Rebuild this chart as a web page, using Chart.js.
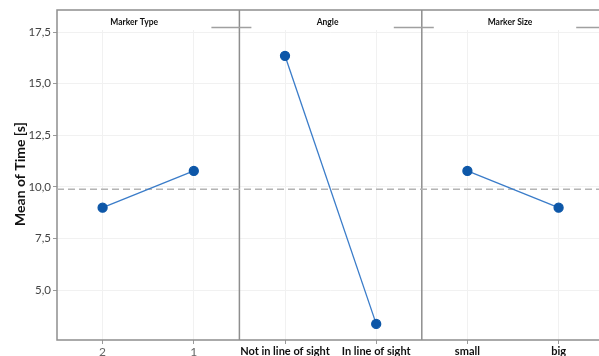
<!DOCTYPE html>
<html>
<head>
<meta charset="utf-8">
<script src="https://cdn.jsdelivr.net/npm/chart.js@4.4.1/dist/chart.umd.min.js"></script>
<style>
  html, body { margin: 0; padding: 0; background: #fff; overflow: hidden; }
  canvas { display: block; }
</style>
</head>
<body>
<canvas id="mainEffects" width="610" height="356"></canvas>
<script>
// Factors (one panel each) and their levels
const factors = ['Marker Type', 'Angle', 'Marker Size'];
const levels = [['2', '1'], ['Not in line of sight', 'In line of sight'], ['small', 'big']];
// Mean of Time [s] for each level
const meanTime = [[8.99, 10.77], [16.35, 3.36], [10.77, 8.99]];
const grandMean = 9.88;
const yTicks = [5, 7.5, 10, 12.5, 15, 17.5];

const allLevels = levels.flat();
const frameColor = '#8e8e8e';

// One line per panel, so panels are not joined
const datasets = factors.map(function(f, k) {
    return {
        label: f,
        data: levels[k].map(function(l, i) { return { x: k * 2 + i + 0.5, y: meanTime[k][i] }; }),
        borderColor: '#3a7cc9',
        borderWidth: 1.3,
        pointBackgroundColor: '#0d57a8',
        pointBorderColor: '#0d57a8',
        pointRadius: 4.5,
        pointHoverRadius: 4.5,
        order: 1
    };
});

// Dashed grand mean line across all panels
datasets.push({
    label: 'mean',
    data: [{ x: 0, y: grandMean }, { x: allLevels.length, y: grandMean }],
    borderColor: '#b4b4b4',
    borderWidth: 1.5,
    borderDash: [7, 4],
    pointRadius: 0,
    order: 2
});

// Frame, panel dividers, strip titles and y title
const panelPlugin = {
    id: 'panels',
    beforeDatasetsDraw: function(chart) {
        const ctx = chart.ctx;
        const area = chart.chartArea;
        const x = chart.scales.x;
        const top = 10;
        ctx.save();
        ctx.strokeStyle = frameColor;
        ctx.lineWidth = 1.5;
        ctx.strokeRect(area.left, top, area.right - area.left, area.bottom - top);
        for (let k = 1; k < factors.length; k++) {
            const px = x.getPixelForValue(k * 2);
            ctx.beginPath();
            ctx.moveTo(px, top);
            ctx.lineTo(px, area.bottom);
            ctx.stroke();
        }
        // small gray strip marks at top right of each panel
        ctx.strokeStyle = '#a0a0a0';
        for (let k = 1; k <= factors.length; k++) {
            const px = x.getPixelForValue(k * 2);
            ctx.beginPath();
            ctx.moveTo(px - 28, 27.5);
            ctx.lineTo(px + 12, 27.5);
            ctx.stroke();
        }
        ctx.fillStyle = '#111';
        ctx.font = 'bold 8.5px Lato';
        ctx.textAlign = 'center';
        ctx.textBaseline = 'middle';
        factors.forEach(function(f, k) {
            const cx = (x.getPixelForValue(k * 2) + x.getPixelForValue(k * 2 + 2)) / 2;
            ctx.fillText(f, cx - (k === 0 ? 14 : 3), 22);
        });
        ctx.translate(20, 174);
        ctx.rotate(-Math.PI / 2);
        ctx.font = 'bold 14px Lato';
        ctx.fillText('Mean of Time [s]', 0, 0);
        ctx.restore();
    }
};

new Chart(document.getElementById('mainEffects'), {
    type: 'line',
    data: { datasets: datasets },
    options: {
        responsive: false,
        animation: false,
        layout: { padding: { top: 30, right: 2, left: 0, bottom: 0 } },
        plugins: { legend: { display: false }, tooltip: { enabled: false } },
        scales: {
            x: {
                type: 'linear',
                min: 0,
                max: allLevels.length,
                afterBuildTicks: function(scale) {
                    scale.ticks = allLevels.map(function(l, i) { return { value: i + 0.5 }; });
                },
                afterFit: function(scale) { scale.height = 16; },
                border: { display: false },
                grid: { color: '#f1f1f1', tickColor: '#9a9a9a', tickLength: 4 },
                ticks: {
                    autoSkip: false,
                    maxRotation: 0,
                    padding: 1,
                    color: function(c) { return c.index < 2 ? '#666' : '#111'; },
                    font: function(c) { return { family: 'Lato', size: c.index < 2 ? 12 : 11, weight: c.index < 2 ? 'normal' : 'bold' }; },
                    callback: function(v) { return allLevels[Math.floor(v)]; }
                }
            },
            y: {
                min: 2.58,
                max: 17.6,
                afterBuildTicks: function(scale) {
                    scale.ticks = yTicks.map(function(v) { return { value: v }; });
                },
                afterFit: function(scale) { scale.width = 57; },
                border: { display: false },
                grid: { color: '#f1f1f1', tickColor: '#9a9a9a', tickLength: 4 },
                ticks: {
                    padding: 2,
                    color: '#444',
                    font: { family: 'Lato', size: 11.5 },
                    callback: function(v) { return v.toFixed(1).replace('.', ','); }
                }
            }
        }
    },
    plugins: [panelPlugin]
});
</script>
</body>
</html>
